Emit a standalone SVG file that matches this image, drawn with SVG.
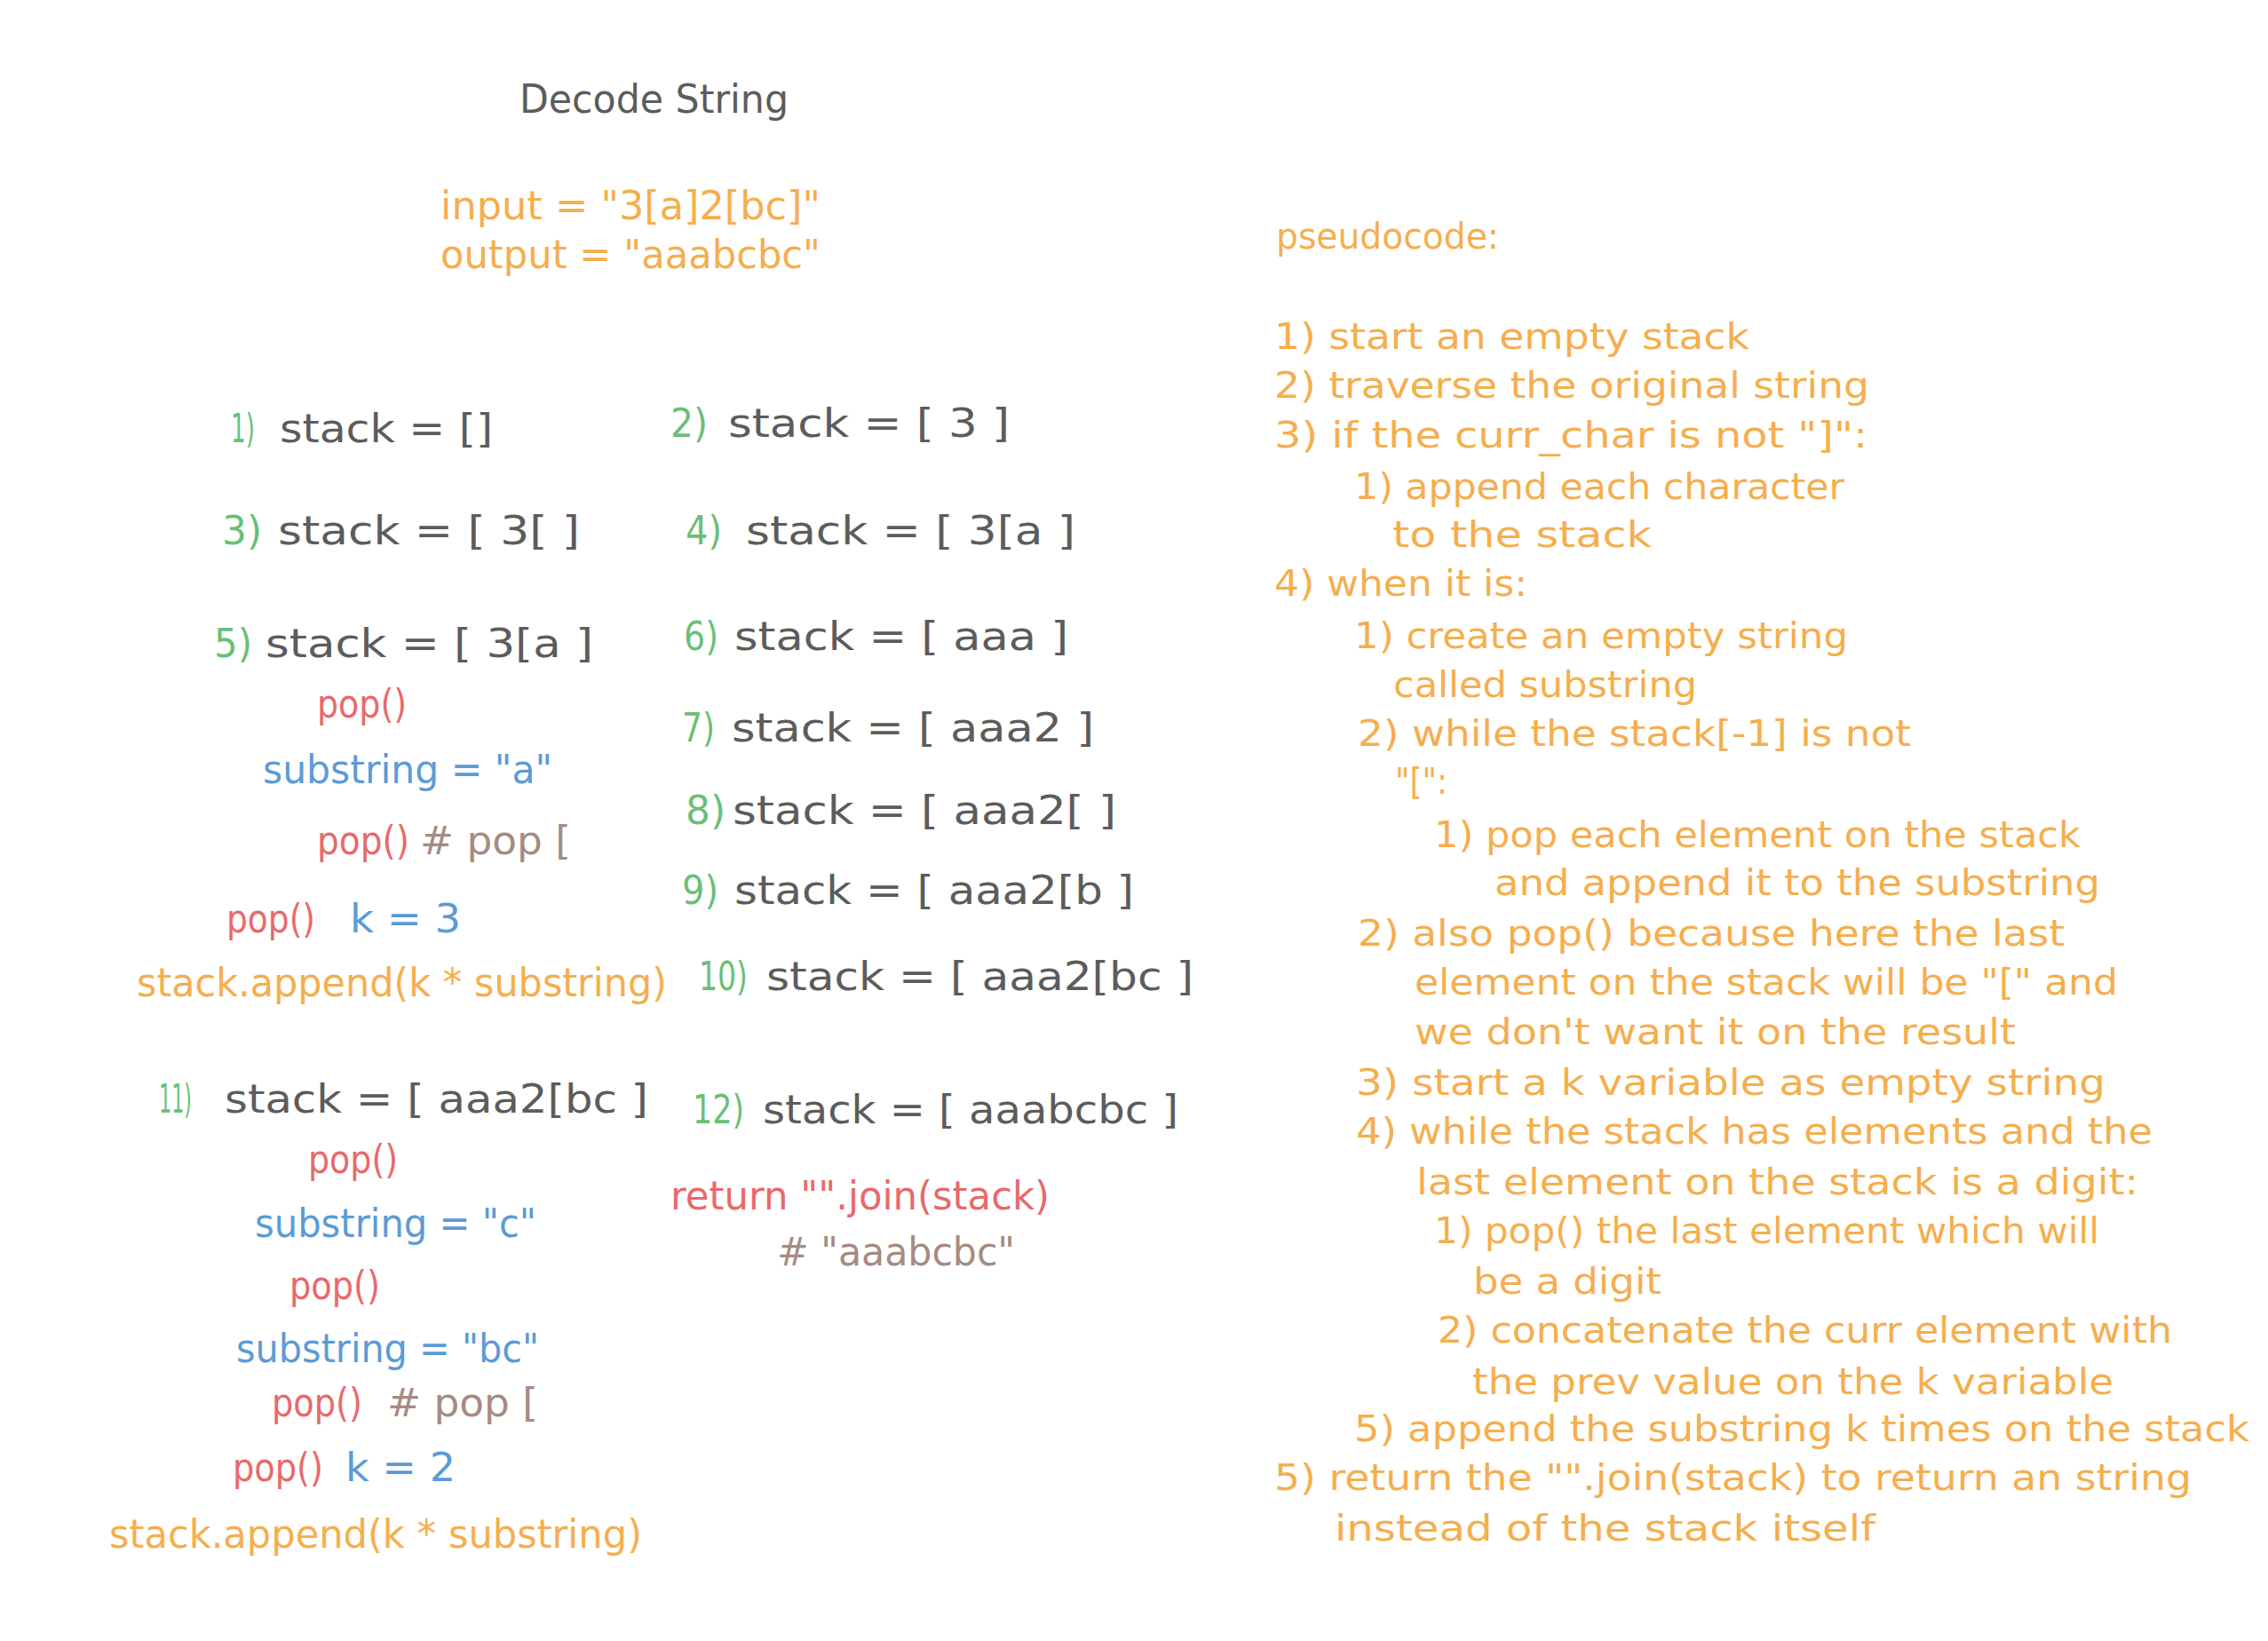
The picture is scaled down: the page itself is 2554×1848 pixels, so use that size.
<svg xmlns="http://www.w3.org/2000/svg" width="2554" height="1848" viewBox="0 0 2554 1848">
<style>
text{font-family:"DejaVu Sans","Liberation Sans",sans-serif;font-size:44px;}
.g{fill:#5c5c5c}.gr{fill:#6abf78}.o{fill:#f5ae4e}.r{fill:#e8696b}.b{fill:#5b9bd6}.br{fill:#a58b80}
.p{font-size:40px}
</style>
<rect width="2554" height="1848" fill="#ffffff"/>
<g id="header">
<text class="g" x="585" y="127" textLength="303" lengthAdjust="spacingAndGlyphs">Decode String</text>
<text class="o" x="496" y="247" textLength="428" lengthAdjust="spacingAndGlyphs">input = "3[a]2[bc]"</text>
<text class="o" x="496" y="302" textLength="428" lengthAdjust="spacingAndGlyphs">output = "aaabcbc"</text>
</g>
<g id="steps">
<g id="step1"><text class="gr" x="260" y="498" textLength="27" lengthAdjust="spacingAndGlyphs">1)</text><text class="g" x="315" y="498" textLength="240" lengthAdjust="spacingAndGlyphs">stack = []</text></g>
<g id="step2"><text class="gr" x="755" y="492" textLength="42" lengthAdjust="spacingAndGlyphs">2)</text><text class="g" x="820" y="492" textLength="317" lengthAdjust="spacingAndGlyphs">stack = [ 3 ]</text></g>
<g id="step3"><text class="gr" x="250" y="613" textLength="45" lengthAdjust="spacingAndGlyphs">3)</text><text class="g" x="313" y="613" textLength="340" lengthAdjust="spacingAndGlyphs">stack = [ 3[ ]</text></g>
<g id="step4"><text class="gr" x="772" y="613" textLength="41" lengthAdjust="spacingAndGlyphs">4)</text><text class="g" x="840" y="613" textLength="371" lengthAdjust="spacingAndGlyphs">stack = [ 3[a ]</text></g>
<g id="step5"><text class="gr" x="241" y="740" textLength="43" lengthAdjust="spacingAndGlyphs">5)</text><text class="g" x="299" y="740" textLength="369" lengthAdjust="spacingAndGlyphs">stack = [ 3[a ]</text></g>
<g id="step6"><text class="gr" x="770" y="732" textLength="39" lengthAdjust="spacingAndGlyphs">6)</text><text class="g" x="827" y="732" textLength="376" lengthAdjust="spacingAndGlyphs">stack = [ aaa ]</text></g>
<g id="step7"><text class="gr" x="768" y="835" textLength="37" lengthAdjust="spacingAndGlyphs">7)</text><text class="g" x="824" y="835" textLength="408" lengthAdjust="spacingAndGlyphs">stack = [ aaa2 ]</text></g>
<g id="step8"><text class="gr" x="772" y="928" textLength="45" lengthAdjust="spacingAndGlyphs">8)</text><text class="g" x="825" y="928" textLength="432" lengthAdjust="spacingAndGlyphs">stack = [ aaa2[ ]</text></g>
<g id="step9"><text class="gr" x="768" y="1018" textLength="41" lengthAdjust="spacingAndGlyphs">9)</text><text class="g" x="827" y="1018" textLength="450" lengthAdjust="spacingAndGlyphs">stack = [ aaa2[b ]</text></g>
<g id="step10"><text class="gr" x="787" y="1115" textLength="55" lengthAdjust="spacingAndGlyphs">10)</text><text class="g" x="863" y="1115" textLength="481" lengthAdjust="spacingAndGlyphs">stack = [ aaa2[bc ]</text></g>
<g id="step11"><text class="gr" x="179" y="1253" textLength="37" lengthAdjust="spacingAndGlyphs">11)</text><text class="g" x="253" y="1253" textLength="477" lengthAdjust="spacingAndGlyphs">stack = [ aaa2[bc ]</text></g>
<g id="step12"><text class="gr" x="780" y="1265" textLength="58" lengthAdjust="spacingAndGlyphs">12)</text><text class="g" x="859" y="1265" textLength="468" lengthAdjust="spacingAndGlyphs">stack = [ aaabcbc ]</text></g>
</g>
<g id="trace-a">
<text class="r" x="357" y="808" textLength="101" lengthAdjust="spacingAndGlyphs">pop()</text>
<text class="b" x="296" y="882" textLength="326" lengthAdjust="spacingAndGlyphs">substring = "a"</text>
<text class="r" x="357" y="962" textLength="104" lengthAdjust="spacingAndGlyphs">pop()</text>
<text class="br" x="473" y="962" textLength="170" lengthAdjust="spacingAndGlyphs"># pop [</text>
<text class="r" x="255" y="1050" textLength="100" lengthAdjust="spacingAndGlyphs">pop()</text>
<text class="b" x="394" y="1050" textLength="125" lengthAdjust="spacingAndGlyphs">k = 3</text>
<text class="o" x="154" y="1122" textLength="597" lengthAdjust="spacingAndGlyphs">stack.append(k * substring)</text>
</g>
<g id="trace-bc">
<text class="r" x="347" y="1321" textLength="101" lengthAdjust="spacingAndGlyphs">pop()</text>
<text class="b" x="287" y="1393" textLength="317" lengthAdjust="spacingAndGlyphs">substring = "c"</text>
<text class="r" x="326" y="1463" textLength="102" lengthAdjust="spacingAndGlyphs">pop()</text>
<text class="b" x="266" y="1534" textLength="341" lengthAdjust="spacingAndGlyphs">substring = "bc"</text>
<text class="r" x="306" y="1595" textLength="102" lengthAdjust="spacingAndGlyphs">pop()</text>
<text class="br" x="436" y="1595" textLength="170" lengthAdjust="spacingAndGlyphs"># pop [</text>
<text class="r" x="262" y="1668" textLength="102" lengthAdjust="spacingAndGlyphs">pop()</text>
<text class="b" x="389" y="1668" textLength="124" lengthAdjust="spacingAndGlyphs">k = 2</text>
<text class="o" x="123" y="1743" textLength="600" lengthAdjust="spacingAndGlyphs">stack.append(k * substring)</text>
</g>
<g id="result">
<text class="r" x="755" y="1362" textLength="427" lengthAdjust="spacingAndGlyphs">return "".join(stack)</text>
<text class="br" x="875" y="1425" textLength="268" lengthAdjust="spacingAndGlyphs"># "aaabcbc"</text>
</g>
<g id="pseudocode" class="o">
<text class="o p" x="1437" y="280" textLength="251" lengthAdjust="spacingAndGlyphs">pseudocode:</text>
<text class="o p" x="1435" y="393" textLength="535" lengthAdjust="spacingAndGlyphs">1) start an empty stack</text>
<text class="o p" x="1435" y="448" textLength="670" lengthAdjust="spacingAndGlyphs">2) traverse the original string</text>
<text class="o p" x="1435" y="504" textLength="668" lengthAdjust="spacingAndGlyphs">3) if the curr_char is not "]":</text>
<text class="o p" x="1525" y="562" textLength="552" lengthAdjust="spacingAndGlyphs">1) append each character</text>
<text class="o p" x="1568" y="616" textLength="292" lengthAdjust="spacingAndGlyphs">to the stack</text>
<text class="o p" x="1435" y="671" textLength="285" lengthAdjust="spacingAndGlyphs">4) when it is:</text>
<text class="o p" x="1525" y="730" textLength="556" lengthAdjust="spacingAndGlyphs">1) create an empty string</text>
<text class="o p" x="1569" y="785" textLength="342" lengthAdjust="spacingAndGlyphs">called substring</text>
<text class="o p" x="1529" y="840" textLength="623" lengthAdjust="spacingAndGlyphs">2) while the stack[-1] is not</text>
<text class="o p" x="1571" y="894" textLength="59" lengthAdjust="spacingAndGlyphs">"[":</text>
<text class="o p" x="1615" y="954" textLength="728" lengthAdjust="spacingAndGlyphs">1) pop each element on the stack</text>
<text class="o p" x="1683" y="1008" textLength="682" lengthAdjust="spacingAndGlyphs">and append it to the substring</text>
<text class="o p" x="1529" y="1065" textLength="796" lengthAdjust="spacingAndGlyphs">2) also pop() because here the last</text>
<text class="o p" x="1593" y="1120" textLength="792" lengthAdjust="spacingAndGlyphs">element on the stack will be "[" and</text>
<text class="o p" x="1593" y="1176" textLength="677" lengthAdjust="spacingAndGlyphs">we don't want it on the result</text>
<text class="o p" x="1527" y="1233" textLength="844" lengthAdjust="spacingAndGlyphs">3) start a k variable as empty string</text>
<text class="o p" x="1527" y="1288" textLength="897" lengthAdjust="spacingAndGlyphs">4) while the stack has elements and the</text>
<text class="o p" x="1595" y="1345" textLength="813" lengthAdjust="spacingAndGlyphs">last element on the stack is a digit:</text>
<text class="o p" x="1615" y="1400" textLength="749" lengthAdjust="spacingAndGlyphs">1) pop() the last element which will</text>
<text class="o p" x="1659" y="1457" textLength="212" lengthAdjust="spacingAndGlyphs">be a digit</text>
<text class="o p" x="1619" y="1512" textLength="827" lengthAdjust="spacingAndGlyphs">2) concatenate the curr element with</text>
<text class="o p" x="1658" y="1570" textLength="722" lengthAdjust="spacingAndGlyphs">the prev value on the k variable</text>
<text class="o p" x="1525" y="1623" textLength="1008" lengthAdjust="spacingAndGlyphs">5) append the substring k times on the stack</text>
<text class="o p" x="1435" y="1678" textLength="1033" lengthAdjust="spacingAndGlyphs">5) return the "".join(stack) to return an string</text>
<text class="o p" x="1503" y="1735" textLength="609" lengthAdjust="spacingAndGlyphs">instead of the stack itself</text>
</g>
<g id="connectors"></g>
</svg>
